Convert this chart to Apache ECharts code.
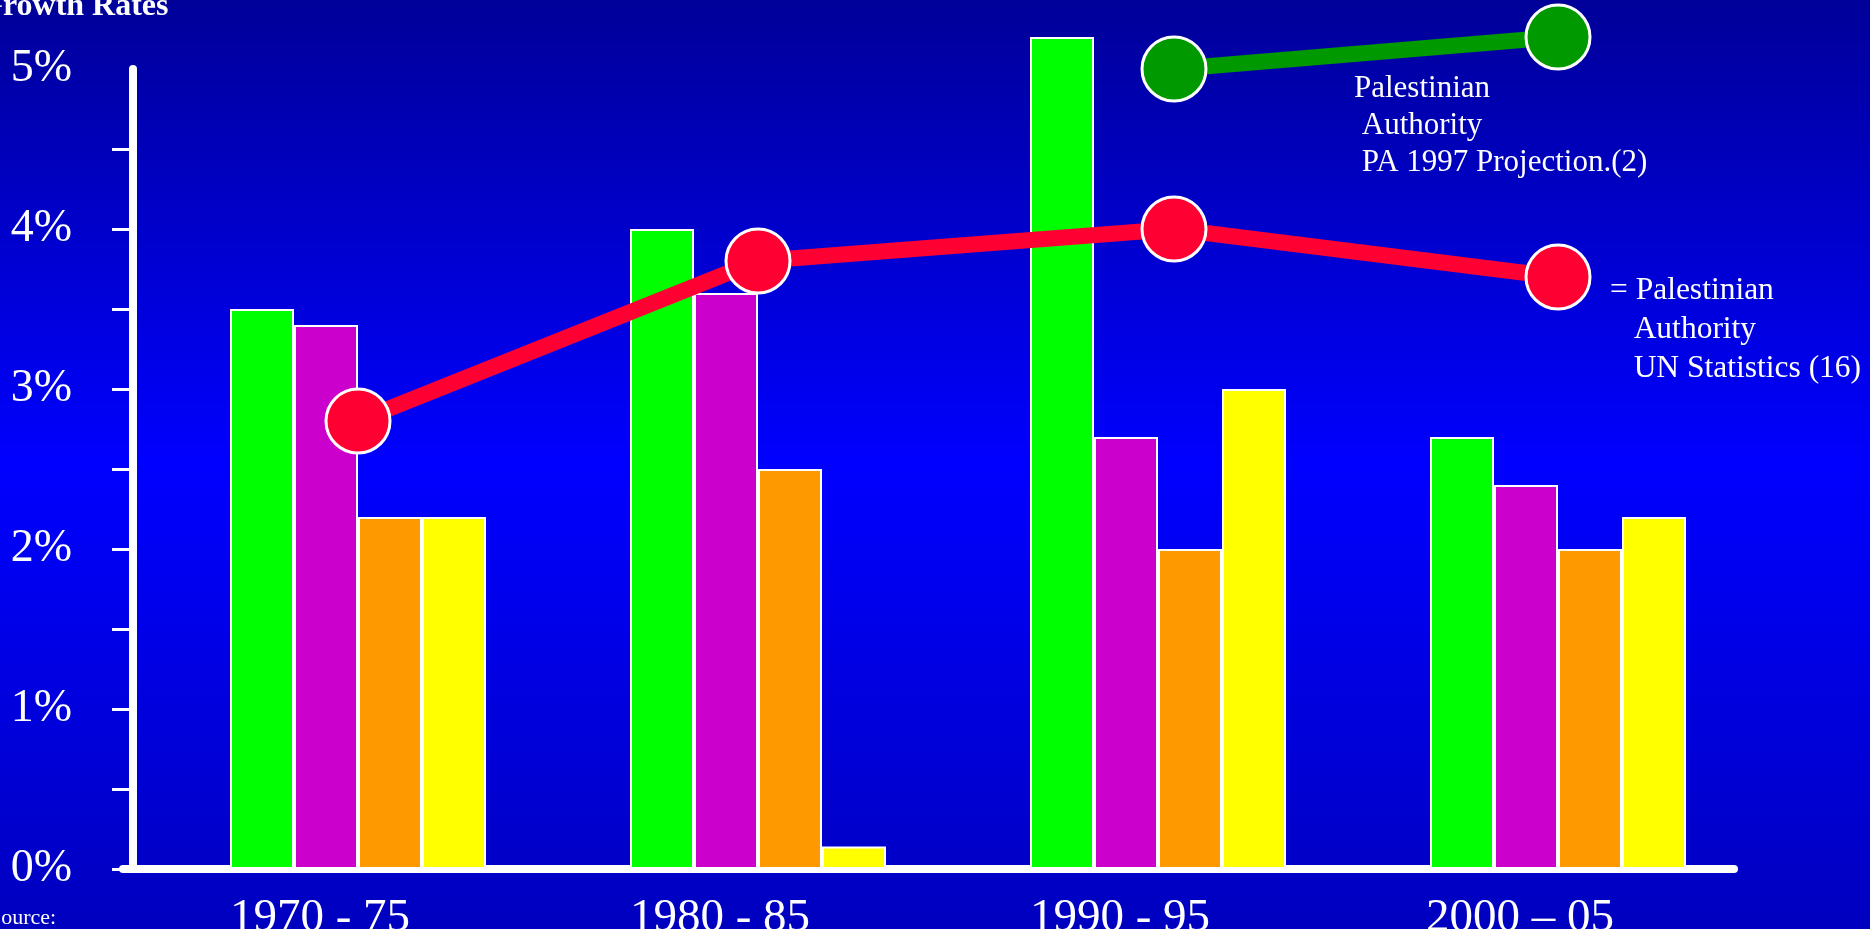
<!DOCTYPE html>
<html>
<head>
<meta charset="utf-8">
<script src="https://cdn.jsdelivr.net/npm/echarts@6/dist/echarts.min.js"></script>
<style>html,body{margin:0;padding:0;overflow:hidden;}#c{width:1870px;height:929px;}</style>
</head>
<body>
<div id="c"></div>
<script>
const categories = ['1970 - 75', '1980 - 85', '1990 - 95', '2000 \u2013 05'];
const greenBars   = [3.5, 4.0, 5.2, 2.7];
const magentaBars = [3.4, 3.6, 2.7, 2.4];
const orangeBars  = [2.2, 2.5, 2.0, 2.0];
const yellowBars  = [2.2, 0.14, 3.0, 2.2];
// line points: period position along the category band (0..4) and growth rate
const unStatsX = [0.5, 1.5, 2.54, 3.5];
const unStatsY = [2.8, 3.8, 4.0, 3.7];
const paProjX  = [2.54, 3.5];
const paProjY  = [5.0, 5.2];
const yTickValues  = [0, 0.5, 1, 1.5, 2, 2.5, 3, 3.5, 4, 4.5];
const yLabelValues = [0, 1, 2, 3, 4, 5];
const yRange = { min: 0, max: 5 };

const FONT = '"Liberation Serif", "Times New Roman", serif';
const chart = echarts.init(document.getElementById('c'));

function barSeries(name, data, color) {
  return {
    name, type: 'bar', data, xAxisIndex: 0, yAxisIndex: 0,
    barWidth: 64, barGap: '0%', clip: false, z: 3,
    itemStyle: { color, borderColor: '#ffffff', borderWidth: 2 }
  };
}
function lineSeries(name, xs, ys, color) {
  return {
    name, type: 'line', data: xs.map((x, i) => [x, ys[i]]),
    xAxisIndex: 2, yAxisIndex: 0, clip: false, z: 5,
    symbol: 'circle', symbolSize: 64,
    lineStyle: { color, width: 16 },
    itemStyle: { color, borderColor: '#ffffff', borderWidth: 3 }
  };
}

chart.setOption({
  animation: false,
  backgroundColor: {
    type: 'linear', x: 0, y: 0, x2: 0, y2: 1,
    colorStops: [
      { offset: 0, color: '#000099' },
      { offset: 0.5, color: '#0000FF' },
      { offset: 1, color: '#0000BF' }
    ]
  },
  grid: [
    { left: 158, right: 112, top: 69, bottom: 60, containLabel: false, outerBoundsMode: 'none' },
    { left: 123, right: 136, top: 69, bottom: 60, containLabel: false, outerBoundsMode: 'none' }
  ],
  xAxis: [
    {
      type: 'category', data: categories, gridIndex: 0,
      axisLine: { show: false }, axisTick: { show: false },
      axisLabel: { color: '#ffffff', fontFamily: FONT, fontSize: 47, margin: 26,
                   interval: 0, padding: [0, 76, 0, 0] }
    },
    {
      type: 'value', gridIndex: 1, min: 0, max: 1,
      axisLine: { show: true, onZero: false, lineStyle: { color: '#ffffff', width: 8 } },
      axisTick: { show: false }, axisLabel: { show: false }, splitLine: { show: false }
    },
    {
      type: 'value', gridIndex: 0, min: 0, max: categories.length, show: false
    }
  ],
  yAxis: [
    {
      type: 'value', gridIndex: 0, min: yRange.min, max: yRange.max, interval: 0.5, offset: 25,
      axisLine: { show: true, onZero: false, lineStyle: { color: '#ffffff', width: 8 } },
      axisTick: { show: true, length: 21, customValues: yTickValues,
                  lineStyle: { color: '#ffffff', width: 3 } },
      splitLine: { show: false },
      axisLabel: {
        color: '#ffffff', fontFamily: FONT, fontSize: 46, margin: 61,
        customValues: yLabelValues,
        formatter: v => Math.round(v) + '%'
      }
    },
    { type: 'value', gridIndex: 1, show: false }
  ],
  series: [
    barSeries('green', greenBars, '#00FF00'),
    barSeries('magenta', magentaBars, '#CC00CC'),
    barSeries('orange', orangeBars, '#FF9900'),
    barSeries('yellow', yellowBars, '#FFFF00'),
    lineSeries('PA 1997 Projection', paProjX, paProjY, '#009900'),
    lineSeries('UN Statistics', unStatsX, unStatsY, '#FF0033')
  ],
  graphic: [
    { type: 'text', x: -22, y: -9, z: 10,
      style: { text: 'Growth Rates', fill: '#ffffff', font: 'bold 32px ' + FONT, verticalAlign: 'top' } },
    { type: 'text', x: -11, y: 907, z: 10,
      style: { text: 'Source:', fill: '#ffffff', font: '22px ' + FONT, verticalAlign: 'top' } },
    { type: 'text', x: 1354, y: 70, z: 10,
      style: { text: 'Palestinian\n Authority\n PA 1997 Projection.(2)', fill: '#ffffff',
               font: '31px ' + FONT, lineHeight: 37, verticalAlign: 'top' } },
    { type: 'text', x: 1610, y: 271, z: 10,
      style: { text: '= Palestinian\n   Authority\n   UN Statistics (16)', fill: '#ffffff',
               font: '31.5px ' + FONT, lineHeight: 39, verticalAlign: 'top' } }
  ]
});
</script>
</body>
</html>
